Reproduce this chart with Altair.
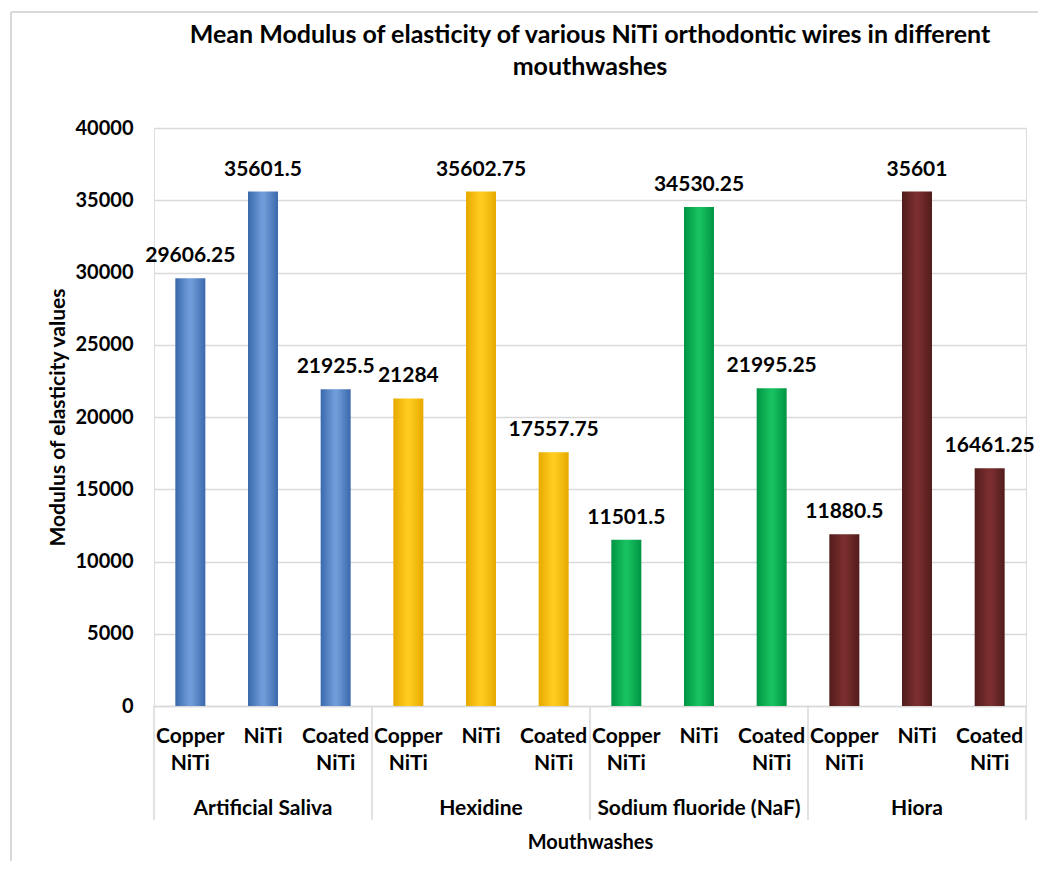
import altair as alt
import pandas as pd

# ---- data ----
mouthwashes = ["Artificial Saliva", "Hexidine", "Sodium fluoride (NaF)", "Hiora"]
wires = ["Copper NiTi", "NiTi", "Coated NiTi"]
artificial_saliva = [29606.25, 35601.5, 21925.5]
hexidine = [21284, 35602.75, 17557.75]
sodium_fluoride = [11501.5, 34530.25, 21995.25]
hiora = [11880.5, 35601, 16461.25]
series_values = [artificial_saliva, hexidine, sodium_fluoride, hiora]
y_ticks = [0, 5000, 10000, 15000, 20000, 25000, 30000, 35000, 40000]

# bar colours (edge, centre, edge) per mouthwash
palette = [
    ("#3A69AC", "#6F9BD8", "#3A69AC"),
    ("#E6A900", "#FFCB1F", "#E6A900"),
    ("#009443", "#17C15F", "#009443"),
    ("#521C1C", "#7A2E2E", "#521C1C"),
]


def fmt(v):
    s = ("%f" % v).rstrip("0").rstrip(".")
    return s


rows = []
for g, vals in zip(mouthwashes, series_values):
    for w, v in zip(wires, vals):
        rows.append({"group": g, "wire": w, "key": f"{g}|{w}", "value": v, "label": fmt(v)})
df = pd.DataFrame(rows)
keys = list(df["key"])

starts = pd.DataFrame({"key": [f"{g}|{wires[0]}" for g in mouthwashes]})
ends = pd.DataFrame({"key": [f"{mouthwashes[-1]}|{wires[-1]}"]})
group_labels = pd.DataFrame({"key": [f"{g}|{wires[1]}" for g in mouthwashes], "group": mouthwashes})

W, H = 872, 578
FONT = "Lato"

xscale = alt.Scale(domain=keys, paddingInner=0, paddingOuter=0)

x_axis = alt.Axis(
    title="Mouthwashes",
    labelExpr="split(split(datum.label, '|')[1], ' ')",
    labelAngle=0,
    labelOverlap=False,
    labelPadding=19,
    labelLineHeight=27,
    labelFontSize=21,
    labelFont=FONT,
    labelFontWeight="bold",
    labelColor="black",
    ticks=False,
    domainColor="#d9d9d9",
    domainWidth=1.5,
    titleY=136,
    titleBaseline="middle",
    titleFontSize=20,
    titleFont=FONT,
    titleFontWeight="bold",
    titleColor="black",
)

y_axis = alt.Axis(
    title="Modulus of elasticity values",
    values=y_ticks,
    format="d",
    domain=False,
    ticks=False,
    grid=True,
    gridColor="#d9d9d9",
    gridWidth=1.5,
    labelPadding=21,
    labelFontSize=20,
    labelFont=FONT,
    labelFontWeight="bold",
    labelColor="black",
    titleX=-96,
    titleBaseline="middle",
    titleFontSize=21,
    titleFont=FONT,
    titleFontWeight="bold",
    titleColor="black",
)

base = alt.Chart(df)

layers = []
axis_layer = base.mark_bar(opacity=0).encode(
    x=alt.X("key:N", scale=xscale, axis=x_axis, sort=keys),
    y=alt.Y("value:Q", scale=alt.Scale(domain=[0, 40000]), axis=y_axis),
)
layers.append(axis_layer)

for g, (c0, c1, c2) in zip(mouthwashes, palette):
    grad = alt.Gradient(
        gradient="linear",
        stops=[
            alt.GradientStop(color=c0, offset=0),
            alt.GradientStop(color=c1, offset=0.45),
            alt.GradientStop(color=c1, offset=0.55),
            alt.GradientStop(color=c2, offset=1),
        ],
        x1=0, x2=1, y1=0, y2=0,
    )
    layers.append(
        base.transform_filter(alt.datum.group == g)
        .mark_bar(size=30, color=grad)
        .encode(
            x=alt.X("key:N", scale=xscale, sort=keys),
            y=alt.Y("value:Q"),
        )
    )

value_text = base.mark_text(
    baseline="alphabetic", dy=-16, fontSize=21, font=FONT, fontWeight="bold", color="black"
).encode(
    x=alt.X("key:N", scale=xscale, sort=keys),
    y=alt.Y("value:Q"),
    text="label:N",
)
layers.append(value_text)

sep_start = alt.Chart(starts).mark_rule(color="#d9d9d9", strokeWidth=1.5).encode(
    x=alt.X("key:N", scale=xscale, bandPosition=0),
    y=alt.value(H),
    y2=alt.value(692),
)
sep_end = alt.Chart(ends).mark_rule(color="#d9d9d9", strokeWidth=1.5).encode(
    x=alt.X("key:N", scale=xscale, bandPosition=1),
    y=alt.value(H),
    y2=alt.value(692),
)
group_text = alt.Chart(group_labels).mark_text(
    baseline="middle", fontSize=21, font=FONT, fontWeight="bold", color="black"
).encode(
    x=alt.X("key:N", scale=xscale),
    y=alt.value(681),
    text="group:N",
)
border_left = alt.Chart(starts).mark_rule(color="#d9d9d9", strokeWidth=2).encode(
    x=alt.value(-143), y=alt.value(-116), y2=alt.value(H + 200)
)
border_top = alt.Chart(starts).mark_rule(color="#d9d9d9", strokeWidth=2).encode(
    x=alt.value(-143), x2=alt.value(W + 12), y=alt.value(-116)
)
layers += [sep_start, sep_end, group_text, border_left, border_top]

chart = alt.layer(*layers).properties(
    width=W,
    height=H,
    autosize=alt.AutoSizeParams(type="none"),
    padding={"left": 146, "top": 120, "right": 12, "bottom": 155},
    title=alt.TitleParams(
        text=[
            "Mean Modulus of elasticity of various NiTi orthodontic wires in different",
            "mouthwashes",
        ],
        fontSize=25,
        font=FONT,
        fontWeight="bold",
        color="black",
        lineHeight=32,
        anchor="middle",
        offset=0,
        dy=69,
    ),
).configure_view(stroke=None).configure(background="white")

chart.save("out.html", embed_options={"renderer": "svg", "actions": False})
